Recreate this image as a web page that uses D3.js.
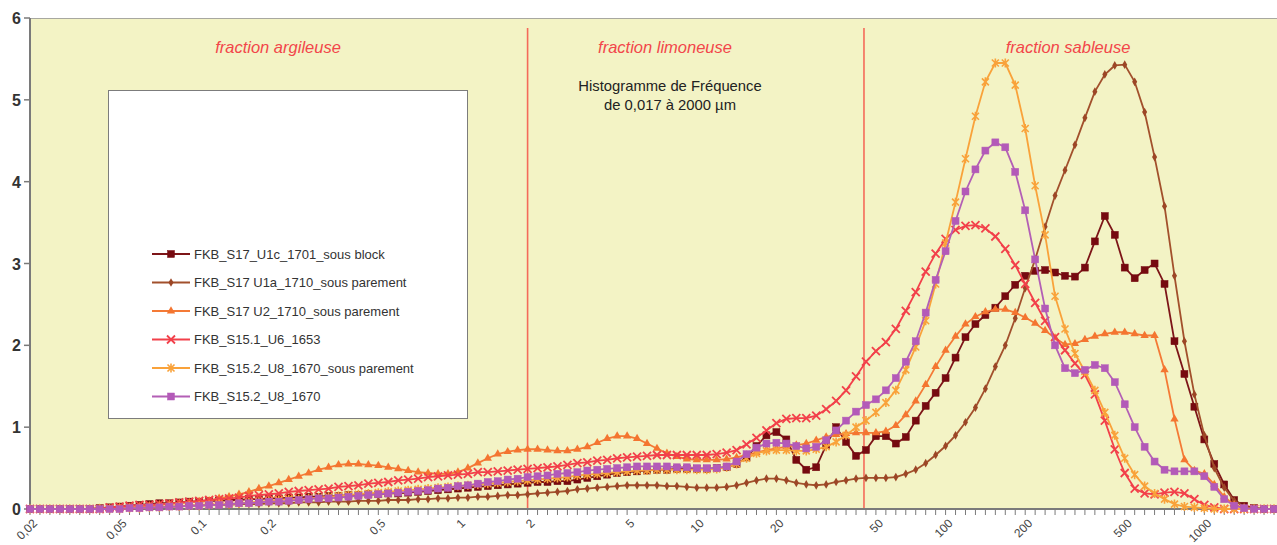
<!DOCTYPE html>
<html>
<head>
<meta charset="utf-8">
<script src="https://cdn.jsdelivr.net/npm/d3@7"></script>
<style>
body { margin: 0; background: #fff; }
svg { display: block; font-family: "Liberation Sans", Arial, sans-serif; }
</style>
</head>
<body>
<svg class="chart" width="1277" height="545"></svg>
<script>

// categories = granulometer channels, 25 per decade, 0.02 -> 2000 µm (index 0..125)
var nCat = 126;

var tickIdx = [0, 9, 17, 24, 35, 43, 50, 60, 67, 75, 85, 92, 100, 110, 118];
var tickLabels = ["0,02", "0,05", "0,1", "0,2", "0,5", "1", "2", "5", "10", "20", "50", "100", "200", "500", "1000"];

// fraction limits (channel index) : 2 µm and 50 µm
var boundIdx = [50, 83.8];
var fractionNames = ["fraction argileuse", "fraction limoneuse", "fraction sableuse"];
var fractionCenter = [278, 665, 1068];

var seriesNames = [
	"FKB_S17_U1c_1701_sous block",
	"FKB_S17 U1a_1710_sous parement",
	"FKB_S17 U2_1710_sous parement",
	"FKB_S15.1_U6_1653",
	"FKB_S15.2_U8_1670_sous parement",
	"FKB_S15.2_U8_1670"
];

var s1 = [0,0,0,0,0,0,0,0.01,0.02,0.03,
	0.04,0.05,0.06,0.07,0.07,0.08,0.09,0.09,0.10,0.10,
	0.11,0.11,0.12,0.12,0.13,0.13,0.14,0.14,0.15,0.15,
	0.16,0.16,0.17,0.17,0.18,0.18,0.19,0.19,0.20,0.21,
	0.22,0.23,0.24,0.25,0.26,0.27,0.28,0.29,0.30,0.31,
	0.32,0.33,0.33,0.34,0.34,0.36,0.38,0.40,0.42,0.44,
	0.45,0.46,0.47,0.48,0.48,0.49,0.49,0.49,0.49,0.50,
	0.51,0.55,0.63,0.77,0.90,0.94,0.85,0.60,0.48,0.51,
	0.78,1.00,0.82,0.65,0.72,0.89,0.89,0.80,0.88,1.08,
	1.26,1.42,1.60,1.85,2.10,2.26,2.37,2.46,2.60,2.74,
	2.85,2.91,2.92,2.89,2.85,2.84,2.95,3.27,3.58,3.35,
	2.95,2.82,2.92,3.00,2.75,2.05,1.65,1.25,0.85,0.55,
	0.30,0.11,0.04,0.01,0,0];

var s2 = [0,0,0,0,0,0,0,0,0,0,
	0.01,0.01,0.02,0.02,0.03,0.03,0.04,0.04,0.05,0.05,
	0.05,0.06,0.06,0.06,0.07,0.07,0.07,0.08,0.08,0.08,
	0.09,0.09,0.09,0.10,0.10,0.10,0.11,0.11,0.11,0.12,
	0.12,0.13,0.13,0.14,0.14,0.15,0.15,0.16,0.17,0.17,
	0.18,0.19,0.20,0.21,0.22,0.24,0.25,0.26,0.27,0.28,
	0.29,0.29,0.29,0.29,0.28,0.28,0.27,0.26,0.26,0.26,
	0.27,0.29,0.32,0.35,0.37,0.37,0.35,0.32,0.30,0.29,
	0.30,0.33,0.35,0.37,0.38,0.38,0.38,0.39,0.43,0.48,
	0.56,0.66,0.77,0.90,1.06,1.24,1.47,1.74,2.00,2.33,
	2.70,3.05,3.45,3.83,4.14,4.45,4.78,5.10,5.31,5.42,
	5.43,5.22,4.85,4.30,3.70,2.85,2.05,1.40,0.90,0.50,
	0.26,0.10,0.03,0.01,0,0];

var s3 = [0,0,0,0,0,0,0,0.01,0.01,0.02,
	0.02,0.03,0.04,0.05,0.06,0.07,0.08,0.09,0.10,0.13,
	0.15,0.18,0.21,0.25,0.28,0.32,0.36,0.40,0.44,0.48,
	0.51,0.54,0.55,0.55,0.54,0.53,0.51,0.49,0.47,0.45,
	0.44,0.43,0.43,0.45,0.50,0.56,0.62,0.67,0.70,0.72,
	0.73,0.73,0.72,0.71,0.71,0.73,0.76,0.81,0.86,0.89,
	0.89,0.86,0.80,0.74,0.68,0.64,0.61,0.60,0.60,0.60,
	0.61,0.63,0.66,0.69,0.72,0.74,0.76,0.78,0.80,0.84,
	0.88,0.91,0.92,0.93,0.93,0.93,0.95,1.02,1.15,1.32,
	1.52,1.74,1.94,2.11,2.26,2.35,2.41,2.44,2.44,2.40,
	2.34,2.27,2.18,2.09,2.01,2.02,2.07,2.11,2.14,2.16,
	2.16,2.14,2.12,2.12,1.70,1.10,0.60,0.47,0.43,0.30,
	0.15,0.05,0.01,0,0,0];

var s4 = [0,0,0,0,0,0,0,0,0.02,0.03,
	0.04,0.05,0.05,0.06,0.07,0.08,0.09,0.10,0.11,0.12,
	0.13,0.14,0.16,0.17,0.18,0.19,0.21,0.22,0.23,0.24,
	0.25,0.27,0.28,0.29,0.31,0.32,0.33,0.35,0.36,0.37,
	0.39,0.40,0.41,0.42,0.43,0.45,0.45,0.46,0.47,0.48,
	0.49,0.50,0.51,0.52,0.54,0.56,0.57,0.59,0.60,0.62,
	0.63,0.64,0.65,0.66,0.66,0.66,0.66,0.66,0.66,0.67,
	0.69,0.72,0.79,0.87,0.96,1.05,1.10,1.11,1.11,1.14,
	1.22,1.32,1.45,1.62,1.80,1.93,2.04,2.20,2.42,2.65,
	2.90,3.12,3.30,3.41,3.46,3.47,3.43,3.33,3.18,2.98,
	2.75,2.52,2.30,2.10,1.94,1.78,1.64,1.40,1.08,0.73,
	0.44,0.25,0.19,0.18,0.20,0.21,0.19,0.12,0.05,0.02,
	0,0,0,0,0,0];

var s5 = [0,0,0,0,0,0,0,0,0,0,
	0.01,0.01,0.02,0.02,0.03,0.03,0.04,0.04,0.05,0.06,
	0.06,0.07,0.08,0.09,0.10,0.11,0.12,0.12,0.13,0.14,
	0.15,0.16,0.17,0.18,0.19,0.20,0.21,0.22,0.23,0.24,
	0.25,0.26,0.27,0.28,0.29,0.30,0.31,0.32,0.33,0.34,
	0.35,0.36,0.37,0.38,0.39,0.41,0.42,0.43,0.44,0.45,
	0.46,0.47,0.47,0.48,0.48,0.48,0.48,0.48,0.48,0.49,
	0.51,0.55,0.62,0.68,0.71,0.72,0.72,0.71,0.71,0.73,
	0.76,0.82,0.90,1.00,1.08,1.18,1.30,1.45,1.70,1.98,
	2.30,2.75,3.25,3.75,4.28,4.80,5.22,5.45,5.45,5.18,
	4.65,3.95,3.35,2.60,2.20,1.90,1.68,1.45,1.18,0.90,
	0.62,0.42,0.28,0.19,0.12,0.06,0.03,0.02,0.01,0,
	0,0,0,0,0,0];

var s6 = [0,0,0,0,0,0,0,0,0,0,
	0.01,0.01,0.02,0.02,0.03,0.03,0.04,0.04,0.05,0.05,
	0.06,0.07,0.07,0.08,0.09,0.09,0.10,0.11,0.12,0.13,
	0.13,0.14,0.15,0.16,0.17,0.18,0.19,0.20,0.21,0.22,
	0.23,0.25,0.26,0.28,0.29,0.31,0.33,0.34,0.36,0.37,
	0.39,0.40,0.41,0.43,0.44,0.45,0.47,0.48,0.49,0.50,
	0.51,0.52,0.52,0.52,0.52,0.51,0.51,0.50,0.50,0.50,
	0.52,0.58,0.67,0.75,0.80,0.81,0.80,0.77,0.74,0.76,
	0.84,0.96,1.08,1.19,1.27,1.34,1.45,1.60,1.80,2.05,
	2.40,2.80,3.15,3.52,3.88,4.15,4.38,4.48,4.42,4.12,
	3.65,3.05,2.45,2.00,1.72,1.66,1.70,1.76,1.72,1.55,
	1.28,1.00,0.76,0.58,0.48,0.46,0.46,0.46,0.40,0.27,
	0.12,0.04,0.01,0,0,0];

var allSeries = [s1, s2, s3, s4, s5, s6];
var lineColors = ["#7d1518", "#a2502c", "#f47a36", "#f2404a", "#f9a23a", "#b35fb5"];
var markerFill = ["#760a10", "#9c4626", "#f47530", "none", "none", "#b35ab8"];
var markerType = ["square", "diamond", "triangle", "cross", "star", "square"];

var svg = d3.select(".chart");
var W = 1277, H = 545;

var xScale = d3.scaleLinear().domain([0, nCat - 1]).range([30, 1274]);
var yScale = d3.scaleLinear().domain([0, 6]).range([509, 18]);

// plot background
svg.append("rect")
	.attr("x", xScale(0)).attr("y", yScale(6))
	.attr("width", W - xScale(0)).attr("height", yScale(0) - yScale(6))
	.attr("fill", "#f3f3c5");
svg.append("line")
	.attr("x1", xScale(0)).attr("x2", W)
	.attr("y1", yScale(6) + 0.5).attr("y2", yScale(6) + 0.5)
	.attr("stroke", "#a8a8a0").attr("stroke-width", 1);

// fraction limits
svg.selectAll(".bound").data(boundIdx).enter().append("line")
	.attr("class", "bound")
	.attr("x1", function(d) { return xScale(d) }).attr("x2", function(d) { return xScale(d) })
	.attr("y1", 28).attr("y2", yScale(0))
	.attr("stroke", "#f46a5a").attr("stroke-width", 1.6);

svg.selectAll(".fraction").data(fractionNames).enter().append("text")
	.attr("class", "fraction")
	.attr("x", function(d, i) { return fractionCenter[i] })
	.attr("y", 53)
	.attr("text-anchor", "middle")
	.attr("font-size", "16.5px")
	.attr("font-style", "italic")
	.attr("fill", "#f2464a")
	.text(function(d) { return d });

var title = svg.append("text")
	.attr("text-anchor", "middle")
	.attr("font-size", "14.8px")
	.attr("fill", "#222");
title.append("tspan").attr("x", 670).attr("y", 91).text("Histogramme de Fréquence");
title.append("tspan").attr("x", 670).attr("y", 110).text("de 0,017 à 2000 µm");

// axes
var yAxis = svg.append("g");
yAxis.append("line")
	.attr("x1", xScale(0)).attr("x2", xScale(0))
	.attr("y1", yScale(6)).attr("y2", yScale(0))
	.attr("stroke", "#7a7a7a").attr("stroke-width", 2);
yAxis.selectAll(".ytick").data(d3.range(0, 7)).enter().append("line")
	.attr("x1", xScale(0) - 6).attr("x2", xScale(0))
	.attr("y1", function(d) { return yScale(d) }).attr("y2", function(d) { return yScale(d) })
	.attr("stroke", "#7a7a7a").attr("stroke-width", 1.5);
yAxis.selectAll(".ylab").data(d3.range(0, 7)).enter().append("text")
	.attr("x", 21)
	.attr("y", function(d) { return yScale(d) + 6 })
	.attr("text-anchor", "end")
	.attr("font-size", "16px")
	.attr("font-weight", "bold")
	.attr("fill", "#333")
	.text(function(d) { return d });

var xAxis = svg.append("g");
xAxis.append("line")
	.attr("x1", xScale(0)).attr("x2", W)
	.attr("y1", yScale(0)).attr("y2", yScale(0))
	.attr("stroke", "#7a7a7a").attr("stroke-width", 2);
xAxis.selectAll(".xtick").data(d3.range(0, nCat)).enter().append("line")
	.attr("x1", function(d) { return xScale(d) }).attr("x2", function(d) { return xScale(d) })
	.attr("y1", yScale(0)).attr("y2", yScale(0) + 6)
	.attr("stroke", "#7a7a7a").attr("stroke-width", 1);
xAxis.selectAll(".xlab").data(tickIdx).enter().append("text")
	.attr("transform", function(d) { return "translate(" + (xScale(d) + 8) + "," + 524 + ") rotate(-45)" })
	.attr("text-anchor", "end")
	.attr("font-size", "12px")
	.attr("fill", "#444")
	.text(function(d, i) { return tickLabels[i] });

function drawMarker(g, type, x, y, k) {
	var c = lineColors[k], f = markerFill[k];
	if (type == "square") {
		g.append("rect").attr("x", x - 3.5).attr("y", y - 3.5).attr("width", 7).attr("height", 7)
			.attr("fill", f).attr("stroke", f).attr("stroke-width", 0.5);
	} else if (type == "diamond") {
		g.append("path").attr("d", d3.symbol().type(d3.symbolDiamond).size(22)())
			.attr("transform", "translate(" + x + "," + y + ")").attr("fill", f);
	} else if (type == "triangle") {
		g.append("path").attr("d", d3.symbol().type(d3.symbolTriangle).size(30)())
			.attr("transform", "translate(" + x + "," + y + ")").attr("fill", f);
	} else if (type == "cross") {
		g.append("path").attr("d", "M-4,-4L4,4M-4,4L4,-4")
			.attr("transform", "translate(" + x + "," + y + ")")
			.attr("stroke", c).attr("stroke-width", 1.8).attr("fill", "none");
	} else if (type == "star") {
		g.append("path").attr("d", "M-3.5,-3.5L3.5,3.5M-3.5,3.5L3.5,-3.5M0,-4.5L0,4.5")
			.attr("transform", "translate(" + x + "," + y + ")")
			.attr("stroke", c).attr("stroke-width", 1.6).attr("fill", "none");
	}
}

var line = d3.line()
	.x(function(d, i) { return xScale(i) })
	.y(function(d) { return yScale(d) });

var plot = svg.append("g");
for (var k = 0; k < allSeries.length; k++) {
	var g = plot.append("g");
	g.append("path")
		.attr("d", line(allSeries[k]))
		.attr("fill", "none")
		.attr("stroke", lineColors[k])
		.attr("stroke-width", 1.8);
	for (var i = 0; i < allSeries[k].length; i++) {
		drawMarker(g, markerType[k], xScale(i), yScale(allSeries[k][i]), k);
	}
}

// legend
var legend = svg.append("g");
legend.append("rect")
	.attr("x", 108.5).attr("y", 90.5).attr("width", 359).attr("height", 328)
	.attr("fill", "#fff").attr("stroke", "#7c7c7c").attr("stroke-width", 1);
for (var k = 0; k < seriesNames.length; k++) {
	var ly = 254 + k * 28.5;
	var lg = legend.append("g");
	lg.append("line").attr("x1", 152).attr("x2", 190).attr("y1", ly).attr("y2", ly)
		.attr("stroke", lineColors[k]).attr("stroke-width", 1.8);
	drawMarker(lg, markerType[k], 171, ly, k);
	lg.append("text").attr("x", 194).attr("y", ly + 4.5)
		.attr("font-size", "13px").attr("fill", "#333")
		.text(seriesNames[k]);
}

</script>
</body>
</html>
